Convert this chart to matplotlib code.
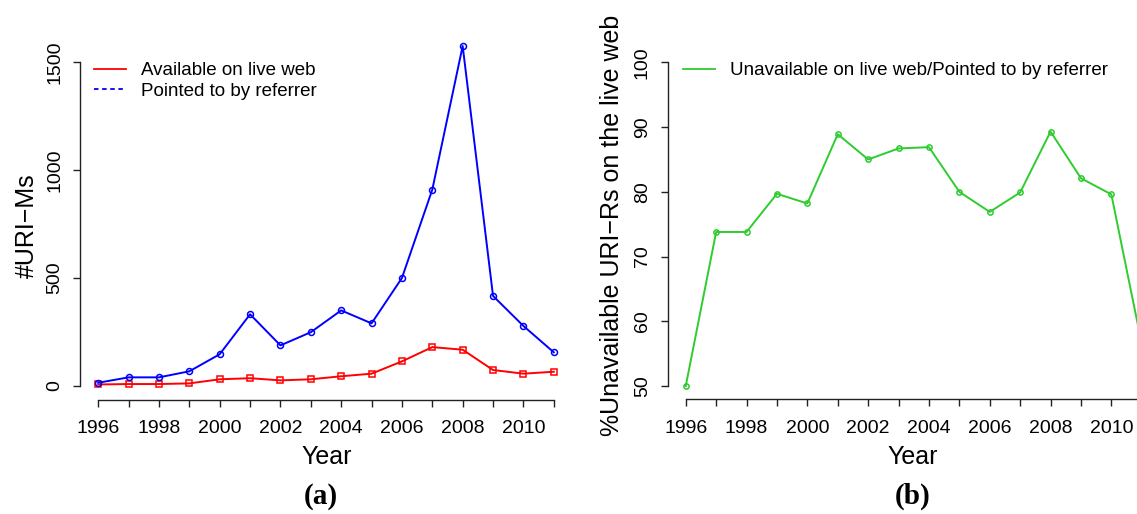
import matplotlib
matplotlib.use("Agg")
import matplotlib.pyplot as plt
from matplotlib.lines import Line2D

# yearly counts of URI-Ms
years = list(range(1996, 2012))
available = [7, 9, 9, 12, 31, 36, 26, 31, 45, 57, 114, 180, 168, 74, 57, 66]
pointed = [15, 40, 40, 68, 147, 332, 188, 249, 350, 290, 500, 909, 1574, 417, 278, 156]
# percent of URI-Rs gone from the live web
unavailable_pct = [50.0, 73.8, 73.8, 79.7, 78.2, 88.9, 85.0, 86.7, 86.9, 80.0, 76.9, 79.9, 89.3, 82.1, 79.6, 56.5]

xtick_labels = [str(y) if y % 2 == 0 else "" for y in years]
left_yticks = [0, 500, 1000, 1500]
right_yticks = [50, 60, 70, 80, 90, 100]

W, H = 1137, 514
plt.rcParams["font.family"] = ["Liberation Sans", "DejaVu Sans"]

fig = plt.figure(figsize=(W / 100, H / 100), dpi=100)


def px_box(x0, y0, x1, y1):
    # pixel box (top-left origin) -> figure fraction rect
    return [x0 / W, (H - y1) / H, (x1 - x0) / W, (y1 - y0) / H]


def r_style(ax, xbounds, ybounds):
    for s in ["top", "right"]:
        ax.spines[s].set_visible(False)
    ax.spines["left"].set_bounds(*ybounds)
    ax.spines["bottom"].set_bounds(*xbounds)
    for s in ["left", "bottom"]:
        ax.spines[s].set_linewidth(1.0)
        ax.spines[s].set_color("#222222")
    ax.tick_params(direction="out", length=5, width=1.0, color="#222222", labelsize=14)
    ax.tick_params(axis="x", pad=10)
    ax.tick_params(axis="y", pad=7)
    ax.set_xticks(years)
    ax.set_xticklabels(xtick_labels)


# (a) counts
ax1 = fig.add_axes(px_box(80, 32.4, 572, 399.6))
ax1.plot(years, available, color="red", lw=1.4, marker="s", ms=3.8,
         mfc="none", mec="red", mew=1.1)
ax1.plot(years, pointed, color="blue", lw=1.4, marker="o", ms=4.3,
         mfc="none", mec="blue", mew=1.1)
ax1.set_xlim(1995.4, 2011.6)
ax1.set_ylim(-63, 1637)
r_style(ax1, (1996, 2011), (0, 1500))
ax1.set_yticks(left_yticks)
ax1.set_yticklabels([str(v) for v in left_yticks], rotation=90, va="center")

handles = [Line2D([], [], color="red", lw=1.3),
           Line2D([], [], color="blue", lw=1.3, ls=(0, (2.5, 2)))]
fig.legend(handles, ["Available on live web", "Pointed to by referrer"],
           loc="upper left", bbox_to_anchor=(94 / W, (H - 62) / H),
           frameon=False, fontsize=13.5, handlelength=1.7, handletextpad=0.8,
           labelspacing=0.2, borderpad=0, borderaxespad=0)

# (b) percentage
ax2 = fig.add_axes(px_box(667.5, 49.4, 1160, 399))
ax2.plot(years, unavailable_pct, color="#2ecc2e", lw=1.4, marker="o", ms=3.8,
         mfc="none", mec="#2ecc2e", mew=1.1)
ax2.set_xlim(1995.4, 2011.6)
ax2.set_ylim(48, 102)
r_style(ax2, (1996, 2011), (50, 100))
ax2.set_yticks(right_yticks)
ax2.set_yticklabels([str(v) for v in right_yticks], rotation=90, va="center")

fig.legend([Line2D([], [], color="#2ecc2e", lw=1.3)],
           ["Unavailable on live web/Pointed to by referrer"],
           loc="upper left", bbox_to_anchor=(683 / W, (H - 62) / H),
           frameon=False, fontsize=13.5, handlelength=1.7, handletextpad=0.8,
           borderpad=0, borderaxespad=0)

# axis titles and panel tags
fig.text(327 / W, 1 - 457 / H, "Year", fontsize=18, ha="center", va="center")
fig.text(913 / W, 1 - 457 / H, "Year", fontsize=18, ha="center", va="center")
fig.text(27 / W, 1 - 226 / H, "#URI\u2212Ms", fontsize=18, rotation=90,
         ha="center", va="center")
fig.text(612 / W, 1 - 225 / H, "%Unavailable URI\u2212Rs on the live web",
         fontsize=18, rotation=90, ha="center", va="center")
fig.text(321 / W, 1 - 496 / H, "(a)", fontsize=21, fontweight="bold",
         family="Liberation Serif", ha="center", va="center")
fig.text(913 / W, 1 - 496 / H, "(b)", fontsize=21, fontweight="bold",
         family="Liberation Serif", ha="center", va="center")

fig.savefig("out.png", dpi=100)
